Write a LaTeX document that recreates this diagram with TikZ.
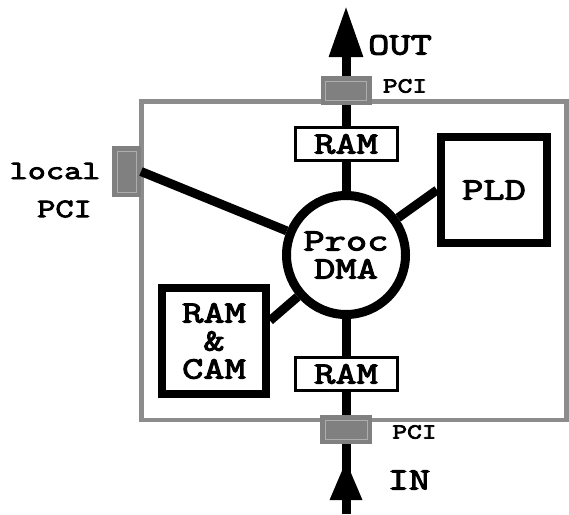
\documentclass[tikz,border=0pt]{standalone}
\usepackage{fontspec}
\setmonofont{Latin Modern Mono}[BoldFont={Latin Modern Mono},BoldFeatures={FakeBold=3.5},FakeStretch=1.33]
\usetikzlibrary{arrows.meta,positioning}
\definecolor{boardgray}{gray}{0.55}
\definecolor{pcifill}{gray}{0.5}
\definecolor{pciline}{gray}{0.68}

\begin{document}
\begin{tikzpicture}[x=1pt,y=-1pt,line width=9pt,
 every node/.style={font=\ttfamily\bfseries\fontsize{31}{28}\selectfont,inner sep=0pt},
 board/.style={draw=boardgray,line width=4.5pt},
 rambox/.style={draw,fill=white,line width=3pt,minimum width=102pt,minimum height=33pt},
 unitbox/.style={draw,fill=white,line width=8pt,align=center},
 procunit/.style={circle,draw,fill=white,line width=9pt,minimum size=119pt,align=center},
 pcibox/.style={fill=pcifill,draw=none,line width=0pt,outer sep=0pt},
 pciinner/.style={draw=pciline,line width=1pt},
 link/.style={line width=9pt},
 smalllbl/.style={font=\ttfamily\bfseries\fontsize{21.5}{24}\selectfont},
 loclbl/.style={font=\ttfamily\bfseries\fontsize{26.5}{28}\selectfont}]
\useasboundingbox (0,0) rectangle (569,514);
% board outline
\draw[board] (141.5,101.5) rectangle (566.5,420);
% units on the board
\node[rambox] (ramtop) at (346,144) {RAM};
\node[rambox] (rambot) at (346,374) {RAM};
\node[procunit] (proc) at (346,255) {Proc\\DMA};
\node[unitbox,minimum width=106pt,minimum height=106pt] (pld) at (494,190) {PLD};
\node[unitbox,minimum width=104pt,minimum height=106pt] (ramcam) at (214,341) {RAM\\\&\\CAM};
% local bus connector
\node[pcibox,minimum width=29pt,minimum height=51pt] (pciloc) at (126.5,171.5) {};
% links
\draw[link] (pciloc.east) -- (proc);
\draw[link] (proc) -- (ramtop);
\draw[link] (proc) -- (rambot);
\draw[link] (proc) -- (pld.west);
\draw[link] (proc) -- (ramcam.20);
% in / out
\coordinate (outtip) at (346,6);
\coordinate (intip) at (346,460);
\coordinate (inend) at (346,514);
\draw[link,-{Triangle[length=51pt,width=32pt]}] (ramtop) -- (outtip);
\draw[link] (inend) -- (rambot);
\draw[link,-{Triangle[length=40pt,width=30pt]}] (inend) -- (intip);
% bus connectors
\node[pcibox,minimum width=51pt,minimum height=29pt] (pcitop) at (346,90.5) {};
\node[pcibox,minimum width=52pt,minimum height=29pt] (pcibot) at (346,429.5) {};
\foreach \c in {pciloc,pcitop,pcibot}
 \draw[pciinner] ([shift={(5pt,5pt)}]\c.south west) rectangle ([shift={(-5pt,-5pt)}]\c.north east);
% labels
\node (outlbl) at (400,45) {OUT};
\node[smalllbl] (pcitoplbl) at (405,86) {PCI};
\node[loclbl] (localtxt) at (55,171) {local};
\node[loclbl] (localpci) at (64.5,209) {PCI};
\node (inlbl) at (409,480) {IN};
\node[smalllbl] (pcibotlbl) at (414.5,432) {PCI};
\end{tikzpicture}
\end{document}
